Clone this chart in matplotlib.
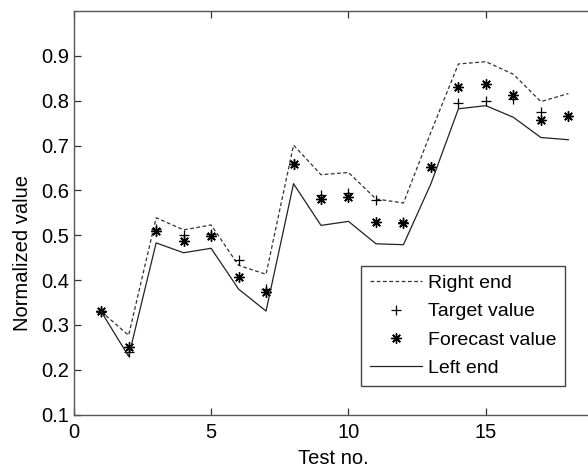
import numpy as np
import matplotlib
matplotlib.use("Agg")
import matplotlib.pyplot as plt

plt.rcParams['font.family'] = ['Liberation Sans', 'DejaVu Sans']

test_no = np.arange(1, 19)
right_end = [0.33, 0.277, 0.539, 0.512, 0.523, 0.433, 0.413, 0.701, 0.635, 0.640,
             0.581, 0.572, 0.73, 0.882, 0.887, 0.859, 0.798, 0.816]
target = [0.33, 0.24, 0.515, 0.501, 0.503, 0.444, 0.38, 0.66, 0.589, 0.594,
          0.578, 0.53, 0.652, 0.794, 0.800, 0.804, 0.775, 0.765]
forecast = [0.331, 0.251, 0.509, 0.487, 0.498, 0.408, 0.374, 0.660, 0.581, 0.586,
            0.529, 0.527, 0.652, 0.831, 0.837, 0.813, 0.757, 0.765]
left_end = [0.33, 0.23, 0.483, 0.461, 0.471, 0.380, 0.331, 0.615, 0.522, 0.531,
            0.481, 0.479, 0.615, 0.782, 0.789, 0.763, 0.718, 0.713]

fs = 14.5
fig = plt.figure(figsize=(5.88, 4.73), dpi=100)
# axes runs past the right edge of the picture, like the cropped original
ax = fig.add_axes([0.1253, 0.1233, 0.888, 0.8534])

ax.plot(test_no, right_end, ls=(0, (3, 2)), color='#333333', lw=0.9, label='Right end')
ax.plot(test_no, target, ls='none', marker='+', ms=7.5, mew=0.9, color='black', label='Target value')
ax.plot(test_no, forecast, ls='none', marker=(8, 2, 0), ms=7.5, mew=1.0, color='black', label='Forecast value')
ax.plot(test_no, left_end, ls='-', color='#222222', lw=0.9, label='Left end')

ax.set_xlim(0, 19)
ax.set_ylim(0.1, 1.0)
ax.set_xticks([0, 5, 10, 15])
ax.set_yticks(np.arange(0.1, 0.95, 0.1))
ax.set_yticklabels([f'{v:.1f}' for v in np.arange(0.1, 0.95, 0.1)])

for s in ax.spines.values():
    s.set_color('#555555')
    s.set_linewidth(1.0)
ax.tick_params(direction='in', length=5, width=0.9, color='#333333', labelsize=fs,
               top=True, right=True)
ax.tick_params(axis='x', pad=6)
ax.tick_params(axis='y', pad=3)

ax.set_xlabel('Test no.', fontsize=fs, va='top')
ax.xaxis.set_label_coords(0.4965, -0.085)
ax.set_ylabel('Normalized value', fontsize=fs)
ax.yaxis.set_label_coords(-0.080, 0.40)

leg = ax.legend(loc='lower right', bbox_to_anchor=(0.9407, 0.0718), borderaxespad=0,
                fontsize=14, fancybox=False, edgecolor='#444444', framealpha=1,
                handlelength=2.65, handletextpad=0.3, labelspacing=0.55, borderpad=0.45)
leg.get_frame().set_linewidth(1.0)

fig.savefig('out.png', dpi=100)
